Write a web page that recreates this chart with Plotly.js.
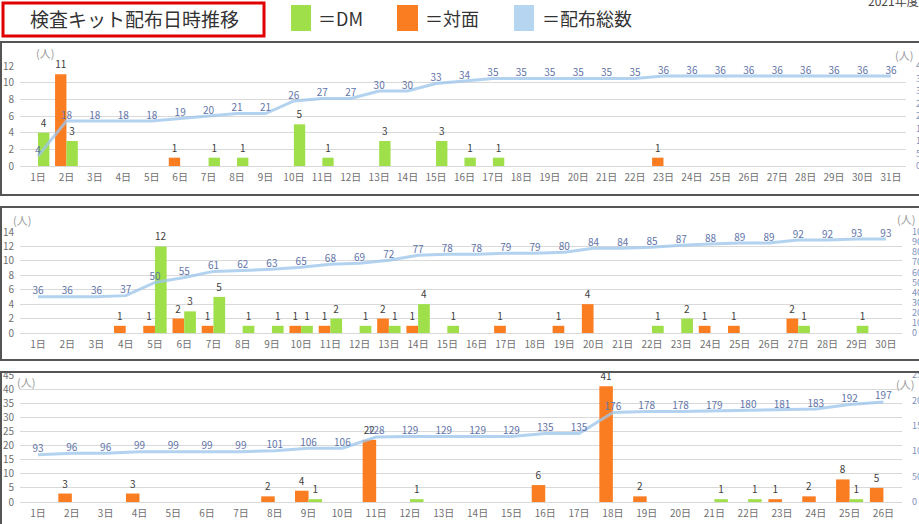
<!DOCTYPE html>
<html><head><meta charset="utf-8">
<script src="https://cdn.plot.ly/plotly-3.0.1.min.js"></script>
<style>html,body{margin:0;padding:0;background:#fff;}#chart{width:919px;height:524px;}</style>
</head><body><div id="chart"></div>
<script>
// ---- Data ----
const days1 = ['1日','2日','3日','4日','5日','6日','7日','8日','9日','10日','11日','12日','13日','14日','15日','16日','17日','18日','19日','20日','21日','22日','23日','24日','25日','26日','27日','28日','29日','30日','31日'];
const dm1    = [4,3,0,0,0,0,1,1,0,5,1,0,3,0,3,1,1,0,0,0,0,0,0,0,0,0,0,0,0,0,0];
const face1  = [0,11,0,0,0,1,0,0,0,0,0,0,0,0,0,0,0,0,0,0,0,0,1,0,0,0,0,0,0,0,0];
const total1 = [4,18,18,18,18,19,20,21,21,26,27,27,30,30,33,34,35,35,35,35,35,35,36,36,36,36,36,36,36,36,36];

const days2 = ['1日','2日','3日','4日','5日','6日','7日','8日','9日','10日','11日','12日','13日','14日','15日','16日','17日','18日','19日','20日','21日','22日','23日','24日','25日','26日','27日','28日','29日','30日'];
const dm2    = [0,0,0,0,12,3,5,1,1,1,2,1,1,4,1,0,0,0,0,0,0,1,2,0,0,0,1,0,1,0];
const face2  = [0,0,0,1,1,2,1,0,0,1,1,0,2,1,0,0,1,0,1,4,0,0,0,1,1,0,2,0,0,0];
const total2 = [36,36,36,37,50,55,61,62,63,65,68,69,72,77,78,78,79,79,80,84,84,85,87,88,89,89,92,92,93,93];

const days3 = ['1日','2日','3日','4日','5日','6日','7日','8日','9日','10日','11日','12日','13日','14日','15日','16日','17日','18日','19日','20日','21日','22日','23日','24日','25日','26日'];
const dm3    = [0,0,0,0,0,0,0,0,1,0,0,1,0,0,0,0,0,0,0,0,1,1,0,0,1,0];
const face3  = [0,3,0,3,0,0,0,2,4,0,22,0,0,0,0,6,0,41,2,0,0,0,1,2,8,5];
const total3 = [93,96,96,99,99,99,99,101,106,106,128,129,129,129,129,135,135,176,178,178,179,180,181,183,192,197];

const titleText = '検査キット配布日時推移';
const legendNames = ['＝DM','＝対面','＝配布総数'];
const yearText = '2021年度';
const unitText = '(人)';

// ---- Styles ----
const W = 919, H = 524;
const GREEN = '#9fe04a', ORANGE = '#fb7d22', LINE = 'rgba(157,197,234,0.78)';
const FONT = 'Noto Sans CJK JP, Noto Sans, sans-serif';
const px = x => x / W;
const py = y => 1 - y / H;
const lbl = v => v.map(n => n ? String(n) : '');

function panel(days, dm, face, total, xa, ya, yb) {
  const xs = xa === 'x1' ? 'x' : xa;
  return [
    {type:'bar', x: days, y: face, xaxis: xs, yaxis: ya, marker:{color:ORANGE},
     text: lbl(face), textposition:'outside', textfont:{size:10,color:'#404040',family:FONT}, cliponaxis:false, hoverinfo:'skip'},
    {type:'bar', x: days, y: dm, xaxis: xs, yaxis: ya, marker:{color:GREEN},
     text: lbl(dm), textposition:'outside', textfont:{size:10,color:'#404040',family:FONT}, cliponaxis:false, hoverinfo:'skip'},
    {type:'scatter', mode:'lines+text', x: days, y: total, xaxis: xs, yaxis: yb,
     line:{color:LINE, width:3}, text: total.map(String), textposition:'top center',
     textfont:{size:10,color:'#6274a8',family:FONT}, cliponaxis:false, hoverinfo:'skip'}
  ];
}

const data = [].concat(
  panel(days1, dm1, face1, total1, 'x1', 'y', 'y2'),
  panel(days2, dm2, face2, total2, 'x2', 'y3', 'y4'),
  panel(days3, dm3, face3, total3, 'x3', 'y5', 'y6')
);

const tickFont = {size:10, color:'#707070', family:FONT};
const rFont = {size:9, color:'#8092bb', family:FONT};
function xax(dom, range, anchor) {
  return {domain:dom, range:range, type:'category', anchor:anchor, showgrid:false, zeroline:false,
          showline:false, ticks:'', tickfont:tickFont, fixedrange:true, ticklabelstandoff:4};
}
function yl(dom, range, dtick, anchor) {
  return {domain:dom, range:range, dtick:dtick, anchor:anchor, showgrid:true, gridcolor:'#d9d9d9', gridwidth:1,
          zeroline:true, zerolinecolor:'#d9d9d9', zerolinewidth:1, showline:false, ticks:'',
          tickfont:tickFont, fixedrange:true, ticklabelstandoff:5};
}
function yr(over, range, dtick, anchor) {
  return {overlaying:over, side:'right', range:range, dtick:dtick, anchor:anchor, showgrid:false, zeroline:false,
          showline:false, ticks:'', tickfont:rFont, fixedrange:true, ticklabelstandoff:9};
}

const dP1 = [py(166), py(66)], dP2 = [py(333), py(232)], dP3 = [py(502), py(375)];

const shapes = [
  // panel borders
  {type:'rect', xref:'paper', yref:'paper', x0:px(1), x1:px(930), y0:py(42), y1:py(195), line:{color:'#555', width:2}},
  {type:'rect', xref:'paper', yref:'paper', x0:px(1), x1:px(930), y0:py(207), y1:py(360), line:{color:'#555', width:2}},
  {type:'rect', xref:'paper', yref:'paper', x0:px(1), x1:px(930), y0:py(372), y1:py(540), line:{color:'#555', width:2}},
  // title box
  {type:'rect', xref:'paper', yref:'paper', x0:px(3), x1:px(264), y0:py(3), y1:py(36), line:{color:'#e00000', width:3}},
  // legend swatches
  {type:'rect', xref:'paper', yref:'paper', x0:px(291), x1:px(311), y0:py(5), y1:py(31), fillcolor:GREEN, line:{width:0}},
  {type:'rect', xref:'paper', yref:'paper', x0:px(397), x1:px(418), y0:py(5), y1:py(31), fillcolor:ORANGE, line:{width:0}},
  {type:'rect', xref:'paper', yref:'paper', x0:px(514), x1:px(534), y0:py(5), y1:py(31), fillcolor:'#b5d5f0', line:{width:0}}
];

const ann = (x, y, text, size, color, xanchor) => ({xref:'paper', yref:'paper', x:px(x), y:py(y), text:text,
  showarrow:false, xanchor:xanchor||'left', yanchor:'middle', font:{size:size, color:color, family:FONT}});

const annotations = [
  ann(134, 19, titleText, 19, '#333', 'center'),
  ann(316, 18, legendNames[0], 18, '#333'),
  ann(423, 18, legendNames[1], 18, '#333'),
  ann(540, 18, legendNames[2], 18, '#333'),
  ann(866, 0, yearText, 12, '#444'),
  ann(34, 53, unitText, 11, '#999'),
  ann(893, 55, unitText, 11, '#999'),
  ann(11, 220, unitText, 11, '#999'),
  ann(895, 219, unitText, 11, '#999'),
  ann(15, 382, unitText, 11, '#999'),
  ann(894, 384, unitText, 11, '#999')
];

const layout = {
  width:W, height:H, margin:{l:0,r:0,t:0,b:0}, paper_bgcolor:'#fff', plot_bgcolor:'rgba(0,0,0,0)',
  showlegend:false, barmode:'group', bargap:0.2, bargroupgap:0,
  font:{family:FONT},
  xaxis:  xax([px(20), px(906)], [-0.633, 30.53], 'y'),
  yaxis:  yl(dP1, [0,12], 2, 'x'),
  yaxis2: yr('y', [0,40], 5, 'x'),
  xaxis2: xax([px(20), px(902)], [-0.616, 29.55], 'y3'),
  yaxis3: yl(dP2, [0,14], 2, 'x2'),
  yaxis4: yr('y3', [0,100], 10, 'x2'),
  xaxis3: xax([px(20), px(902)], [-0.533, 25.55], 'y5'),
  yaxis5: yl(dP3, [0,45], 5, 'x3'),
  yaxis6: yr('y5', [0,250], 50, 'x3'),
  shapes: shapes, annotations: annotations
};

Plotly.newPlot('chart', data, layout, {staticPlot:true, displayModeBar:false});
</script></body></html>
